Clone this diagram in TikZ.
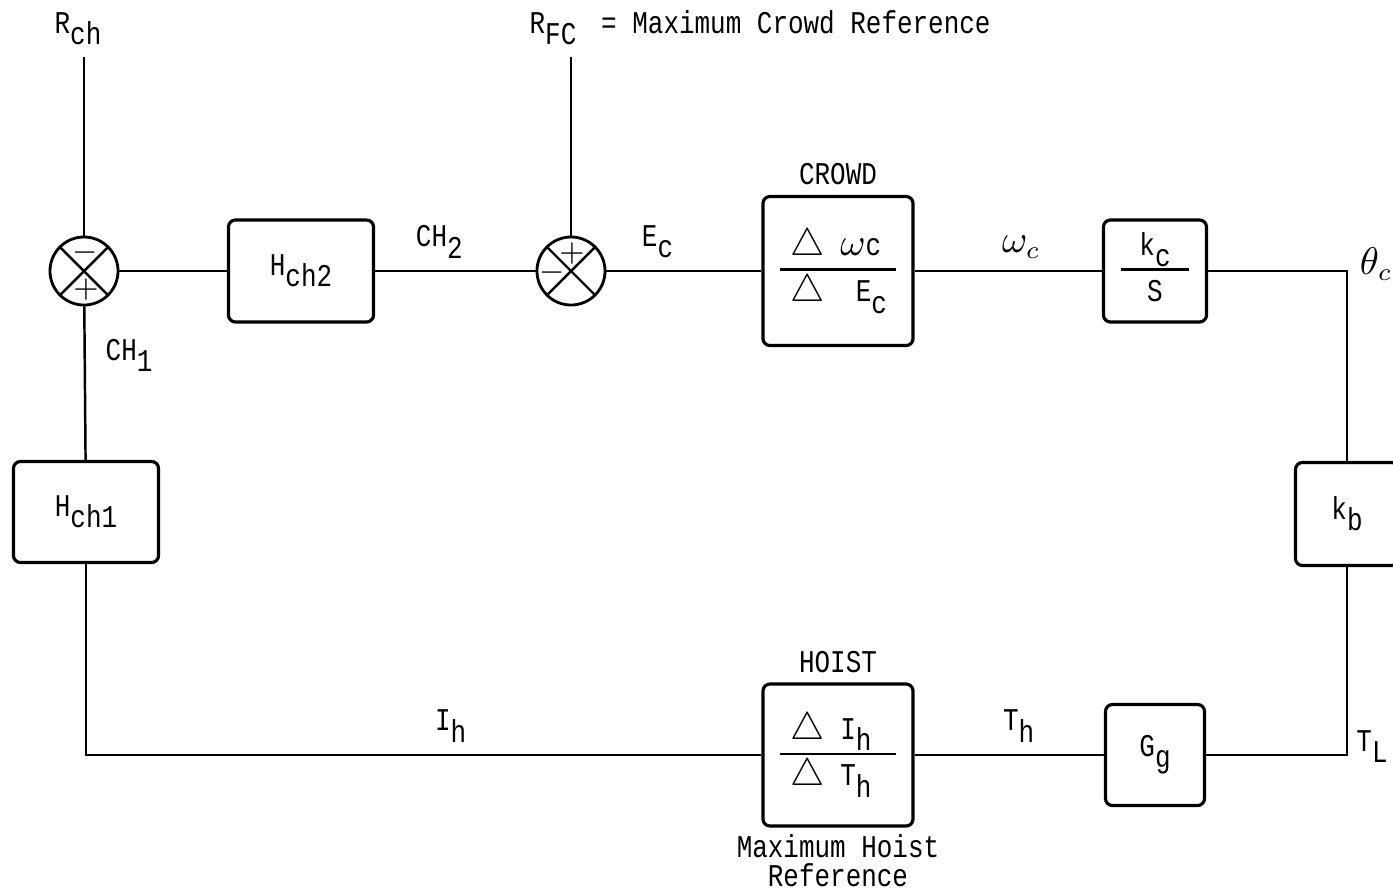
\documentclass[tikz,border=0pt]{standalone}
\usepackage{fontspec}
\setmainfont[FakeStretch=0.82]{Liberation Mono}
\usetikzlibrary{positioning}

% typewriter subscript: same size, dropped half a line
\newcommand{\lo}[1]{\raisebox{-3.2pt}{#1}}
\newcommand{\tri}{{\fontsize{10.5}{10.5}\selectfont$\triangle$}}
\newcommand{\hw}[1]{{\fontsize{10.5}{10.5}\selectfont$#1$}}
% ratio inside a block: width, alignment, top, bottom
\newcommand{\ratio}[4]{{\setlength{\arrayrulewidth}{0.7pt}%
  \begin{tabular}{@{}c@{}}\makebox[#1][#2]{#3}\\[0.5pt]\hline
  \rule{0pt}{8.8pt}\makebox[#1][#2]{#4}\end{tabular}}}

\begin{document}
\begin{tikzpicture}[x=0.01cm, y=-0.01cm, font=\fontsize{9}{10.8}\selectfont,
    wire/.style={line width=0.7pt},
    block/.style={draw, rounded corners=2pt, line width=0.9pt, inner sep=0pt},
    sumnode/.style={draw, circle, line width=0.8pt, minimum size=0.68cm, inner sep=0pt,
      path picture={\draw[line width=0.7pt]
        (path picture bounding box.north west) -- (path picture bounding box.south east)
        (path picture bounding box.north east) -- (path picture bounding box.south west);}},
    sign/.style={inner sep=0pt, font=\fontsize{9}{9}\selectfont}]

\useasboundingbox (0,0) rectangle (1393,893);

% References
\node[anchor=base] (rch) at (78,33) {R\lo{ch}};
\node[anchor=base] (rfc) at (553,33) {R\lo{FC}};
\node[anchor=base west] (rfcnote) at (rfc.base east) {= Maximum Crowd Reference};

% Summing points
\node[sumnode] (sumone) at (84,271) {};
\node[sumnode] (sumtwo) at (571,271) {};
\node[sign] (sumoneminus) at (85,253) {$-$};
\node[sign] (sumoneplus)  at (86,290) {$+$};
\node[sign] (sumtwoplus)  at (572,254) {$+$};
\node[sign] (sumtwominus) at (552,273) {$-$};

% Blocks
\node[block, minimum width=1.45cm, minimum height=1.02cm] (hchtwo) at (301,271) {H\lo{ch2}};
\node[block, minimum width=1.45cm, minimum height=1.01cm] (hchone) at (86,512)  {H\lo{ch1}};
\node[block, minimum width=1.5cm,  minimum height=1.49cm] (crowd)  at (838,271)
  {\ratio{1.16cm}{l}{\hspace{3pt}\tri\ \hw{\omega}c}{\hspace{3pt}\tri\ \ E\lo{c}}};
\node[block, minimum width=1.03cm, minimum height=1.02cm] (kcs)    at (1155,271) {\ratio{0.68cm}{c}{k\lo{c}}{S}};
\node[block, minimum width=1.03cm, minimum height=1.03cm] (kb)     at (1347,514) {k\lo{b}};
\node[block, minimum width=0.99cm, minimum height=1.01cm] (gg)     at (1155,755) {G\lo{g}};
\node[block, minimum width=1.5cm,  minimum height=1.42cm] (hoist)  at (838,755)
  {\ratio{1.16cm}{l}{\hspace{3pt}\tri\ I\lo{h}}{\hspace{3pt}\tri\ T\lo{h}}};

\node[above=-0.7pt of crowd] (crowdtitle) {CROWD};
\node[above=-0.7pt of hoist] (hoisttitle) {HOIST};
\node[below=-1.6pt of hoist, align=center, font=\fontsize{9}{8.4}\selectfont] (hoistref)
  {Maximum Hoist\\Reference};

% Forward path
\draw[wire] (sumone) -- (sumone |- rch.south);
\draw[wire] (sumtwo) -- (sumtwo |- rfc.south);
\draw[wire] (sumone) -- (hchtwo);
\draw[wire] (hchtwo) -- node[above, pos=0.4] (chtwo) {CH\lo{2}} (sumtwo);
\draw[wire] (sumtwo) -- node[above, pos=0.33] (ec) {E\lo{c}} (crowd);
\draw[wire] (crowd) -- node[above, pos=0.57] (omc) {\hw{\omega_c}} (kcs);
\draw[wire] (kcs) -| node[pos=0.5, right=0pt, yshift=2pt] (thc) {\hw{\theta_c}} (kb);

% Return path
\draw[wire] (kb) |- node[pos=0.5, right=-1pt, yshift=2.3pt] (tl) {T\lo{L}} (gg);
\draw[wire] (gg) -- node[above, pos=0.45] (th) {T\lo{h}} (hoist);
\draw[wire] (hoist) -| node[above, pos=0.23] (ih) {I\lo{h}} (hchone);
\draw[wire] (sumone) -- node[right=2.3pt, pos=0.32] (chone) {CH\lo{1}} (hchone);

\end{tikzpicture}
\end{document}
